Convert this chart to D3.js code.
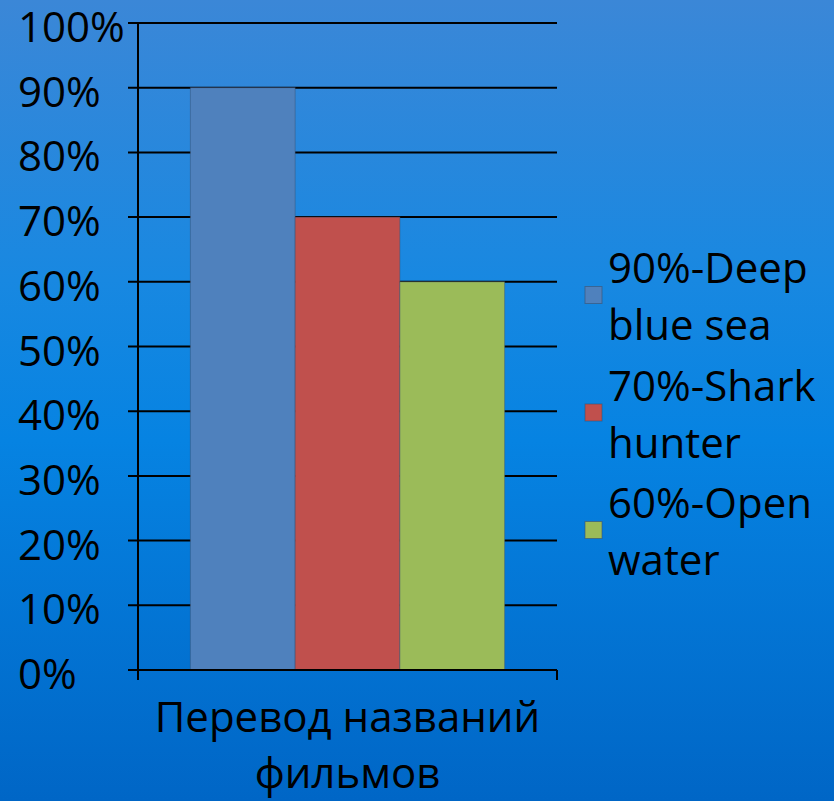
<!DOCTYPE html>
<html><head><meta charset="utf-8">
<script src="https://cdn.jsdelivr.net/npm/d3@7"></script>
<style>html,body{margin:0;padding:0;overflow:hidden;}svg{display:block;}</style>
</head><body>
<script>
const categories = ["Перевод названий фильмов"];
const seriesNames = ["90%-Deep blue sea", "70%-Shark hunter", "60%-Open water"];
const seriesValues = [0.9, 0.7, 0.6];
const seriesColors = ["#4f81bd", "#c0504d", "#9bbb59"];
const yTicks = [0, 0.1, 0.2, 0.3, 0.4, 0.5, 0.6, 0.7, 0.8, 0.9, 1.0];
const legendLines = [["90%-Deep", "blue sea"], ["70%-Shark", "hunter"], ["60%-Open", "water"]];
const titleLines = ["Перевод названий", "фильмов"];

(function () {
const W = 834, H = 801;
const FONT = "'Open Sans', 'Noto Sans', sans-serif";
const svg = d3.select("body").append("svg").attr("width", W).attr("height", H);
const defs = svg.append("defs");
const g = defs.append("linearGradient").attr("id", "bg").attr("x1", 0).attr("y1", 0).attr("x2", 0).attr("y2", 1);
g.append("stop").attr("offset", "0%").attr("stop-color", "#3b87d7");
g.append("stop").attr("offset", "35%").attr("stop-color", "#1888e1");
g.append("stop").attr("offset", "55%").attr("stop-color", "#0683e2");
g.append("stop").attr("offset", "100%").attr("stop-color", "#0066c6");
svg.append("rect").attr("width", W).attr("height", H).attr("fill", "url(#bg)");

const pL = 138, pR = 557, pT = 23, pB = 670;
const y = d3.scaleLinear().domain([0, 1]).range([pB, pT]);
const x0 = d3.scaleBand().domain(categories).range([pL, pR]).paddingInner(0).paddingOuter(1/6);
const x1 = d3.scaleBand().domain(seriesNames).range([0, x0.bandwidth()]).padding(0);

// gridlines
svg.append("g").selectAll("line").data(yTicks).join("line")
  .attr("x1", pL - 10).attr("x2", pR)
  .attr("y1", d => y(d)).attr("y2", d => y(d))
  .attr("stroke", "#000").attr("stroke-width", 2);

// bars
svg.append("g").selectAll("rect").data(seriesNames).join("rect")
  .attr("x", (d) => x0(categories[0]) + x1(d))
  .attr("width", x1.bandwidth())
  .attr("y", (d, i) => y(seriesValues[i]))
  .attr("height", (d, i) => pB - y(seriesValues[i]))
  .attr("fill", (d, i) => seriesColors[i])
  .attr("stroke", "rgba(60,80,110,0.45)").attr("stroke-width", 1);

// axes
svg.append("line").attr("x1", pL).attr("x2", pL).attr("y1", pT).attr("y2", pB + 10)
  .attr("stroke", "#000").attr("stroke-width", 2);
svg.append("line").attr("x1", pL).attr("x2", pR).attr("y1", pB).attr("y2", pB)
  .attr("stroke", "#000").attr("stroke-width", 2);
svg.append("line").attr("x1", pR).attr("x2", pR).attr("y1", pB).attr("y2", pB + 10)
  .attr("stroke", "#000").attr("stroke-width", 2);

// y tick labels
svg.append("g").selectAll("text").data(yTicks).join("text")
  .attr("x", 18).attr("y", d => y(d) + 19)
  .attr("font-family", FONT).attr("font-size", 42).attr("fill", "#000")
  .text(d => d3.format(".0%")(d));

// x title
svg.append("g").selectAll("text").data(titleLines).join("text")
  .attr("x", (pL + pR) / 2).attr("y", (d, i) => 732 + i * 56)
  .attr("text-anchor", "middle")
  .attr("font-family", FONT).attr("font-size", 42).attr("fill", "#000")
  .text(d => d);

// legend
const lg = svg.append("g");
const legendCenters = [295, 412.5, 530];
seriesNames.forEach((s, i) => {
  lg.append("rect").attr("x", 585).attr("y", legendCenters[i] - 8.5).attr("width", 17).attr("height", 17)
    .attr("fill", seriesColors[i]).attr("stroke", "rgba(60,80,110,0.6)").attr("stroke-width", 1);
  legendLines[i].forEach((t, j) => {
    lg.append("text").attr("x", 608).attr("y", legendCenters[i] - 12 + j * 57)
      .attr("font-family", FONT).attr("font-size", 42).attr("fill", "#000").text(t);
  });
});
})();
</script>
</body></html>
